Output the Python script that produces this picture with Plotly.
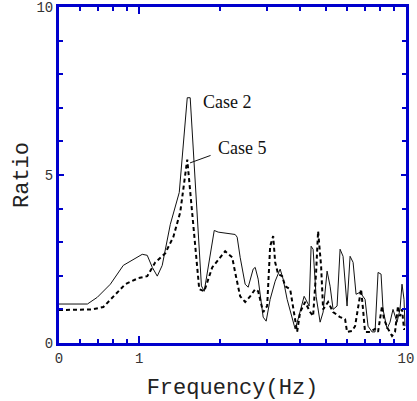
import plotly.graph_objects as go
import math

# Case 2 (solid)
case2_f = [0.5, 0.639, 0.696, 0.779, 0.871, 0.966, 1.026, 1.071, 1.119, 1.168, 1.219, 1.307, 1.412,
           1.513, 1.552, 1.71, 1.752, 1.910, 1.976, 2.288, 2.328, 2.389, 2.494, 2.560, 2.673, 2.720,
           2.791, 2.914, 2.990, 3.095, 3.232, 3.374, 3.463, 3.584, 3.741, 3.839, 3.939, 4.079, 4.150,
           4.258, 4.333, 4.408, 4.484, 4.602, 4.764, 4.889, 5.060, 5.193, 5.329, 5.516, 5.661, 5.808,
           6.012, 6.171, 6.333, 6.498, 6.726, 7.022, 7.206, 7.460, 7.655, 7.856, 8.062, 8.201, 8.489,
           8.711, 8.939, 9.254, 9.495, 9.661, 9.829, 9.914]
case2_r = [1.16, 1.16, 1.36, 1.75, 2.31, 2.52, 2.64, 2.61, 2.25, 1.99, 2.31, 3.53, 4.48,
           7.3, 7.3, 1.7, 1.54, 3.35, 3.3, 3.23, 3.15, 2.55, 1.75, 1.66, 2.2, 2.25,
           1.9, 0.77, 0.65, 1.3, 1.84, 2.2, 1.9, 1.3, 0.8, 0.42, 0.71, 1.22, 1.39,
           1.22, 1.1, 2.88, 2.79, 1.39, 0.62, 0.92, 2.14, 1.69, 1.0, 1.1, 2.79, 2.58,
           1.1, 2.58, 2.4, 1.45, 1.51, 1.3, 0.5, 0.33, 0.33, 2.1, 2.05, 1.0, 0.42,
           0.62, 1.0, 0.62, 1.0, 1.75, 1.3, 0.5]

# Case 5 (dashed)
case5_f = [0.5, 0.667, 0.733, 0.792, 0.886, 0.991, 1.071, 1.148, 1.251, 1.341, 1.424, 1.513, 1.593,
           1.678, 1.752, 1.877, 2.099, 2.230, 2.288, 2.389, 2.494, 2.604, 2.720, 2.791, 2.914, 3.016,
           3.095, 3.177, 3.232, 3.316, 3.433, 3.524, 3.679, 3.774, 3.906, 4.009, 4.186, 4.370, 4.484,
           4.602, 4.682, 4.805, 4.889, 5.104, 5.329, 5.661, 5.910, 6.012, 6.279, 6.442, 6.611, 6.785,
           6.902, 7.022, 7.332, 7.655, 7.856, 8.131, 8.271, 8.563, 8.863, 9.095, 9.333, 9.495, 9.661,
           9.829, 9.914]
case5_r = [0.98, 1.0, 1.07, 1.34, 1.75, 1.93, 1.99, 2.4, 2.67, 3.15, 3.89, 5.46, 3.6,
           1.6, 1.54, 2.25, 2.73, 2.55, 2.1, 1.39, 1.22, 1.39, 1.6, 1.54, 0.92, 1.1,
           2.88, 3.18, 2.4, 2.05, 1.99, 1.69, 1.6, 1.0, 0.33, 0.92, 1.22, 0.92, 0.8,
           2.1, 3.33, 2.29, 1.0, 1.22, 0.92, 0.77, 0.71, 0.33, 0.36, 0.5, 1.1, 1.6,
           1.0, 0.33, 0.33, 0.42, 0.33, 1.1, 0.71, 0.42, 0.21, 0.33, 1.1, 0.8, 1.0,
           0.42, 0.42]

x_tickvals = [0.5, 1, 10]
x_ticktext = ["0", "1", "10"]
x_minor = [0.6, 0.7, 0.8, 0.9, 2, 3, 4, 5, 6, 7, 8, 9]
y_tickvals = [0, 5, 10]
y_ticktext = ["0", "5", "10"]

BLUE = "#0000CC"
MONO = "Liberation Mono, Courier New, monospace"
SERIF = "Liberation Serif, Times New Roman, serif"

fig = go.Figure()
fig.add_trace(go.Scatter(x=case2_f, y=case2_r, mode="lines", name="Case 2",
                         line=dict(color="#111111", width=1)))
fig.add_trace(go.Scatter(x=case5_f, y=case5_r, mode="lines", name="Case 5",
                         line=dict(color="#000000", width=2, dash="4px,3px")))

fig.add_annotation(x=math.log10(2.15), y=7.17, text="Case 2", showarrow=False,
                   font=dict(family=SERIF, size=18, color="#111111"))
fig.add_annotation(x=math.log10(2.44), y=5.8, text="Case 5", showarrow=False,
                   font=dict(family=SERIF, size=18, color="#111111"))
fig.add_annotation(x=math.log10(1.55), y=5.36, text="", showarrow=True, arrowhead=0,
                   ax=22, ay=-8, arrowwidth=1, arrowcolor="#111111")

fig.update_layout(
    width=417, height=401,
    margin=dict(l=59, r=11, t=7, b=58),
    paper_bgcolor="white", plot_bgcolor="white",
    showlegend=False,
    xaxis=dict(type="log", range=[math.log10(0.5), 1], automargin=False,
               tickvals=x_tickvals, ticktext=x_ticktext, ticklabeloverflow="allow",
               ticks="inside", ticklen=7, tickwidth=2, tickcolor=BLUE,
               minor=dict(tickvals=x_minor, ticks="inside", ticklen=4, tickwidth=2, tickcolor=BLUE),
               showline=True, linecolor=BLUE, linewidth=3, mirror="ticks",
               showgrid=False, zeroline=False,
               tickfont=dict(family=MONO, size=14, color="#333333"),
               title=dict(text="Frequency(Hz)", font=dict(family=MONO, size=22, color="#222222"),
                          standoff=14)),
    yaxis=dict(range=[0, 10], tickvals=y_tickvals, ticktext=y_ticktext, automargin=False,
               ticklabeloverflow="allow",
               ticks="inside", ticklen=5, tickwidth=2, tickcolor=BLUE,
               minor=dict(dtick=1, ticks="inside", ticklen=4, tickwidth=2, tickcolor=BLUE),
               showline=True, linecolor=BLUE, linewidth=3, mirror="ticks",
               showgrid=False, zeroline=False,
               tickfont=dict(family=MONO, size=14, color="#333333"),
               title=dict(text="Ratio", font=dict(family=MONO, size=22, color="#222222"),
                          standoff=2)),
)

fig.write_html("out.html", config={"displayModeBar": False},
               post_script="document.body.style.margin='0';document.body.style.overflow='hidden';")
